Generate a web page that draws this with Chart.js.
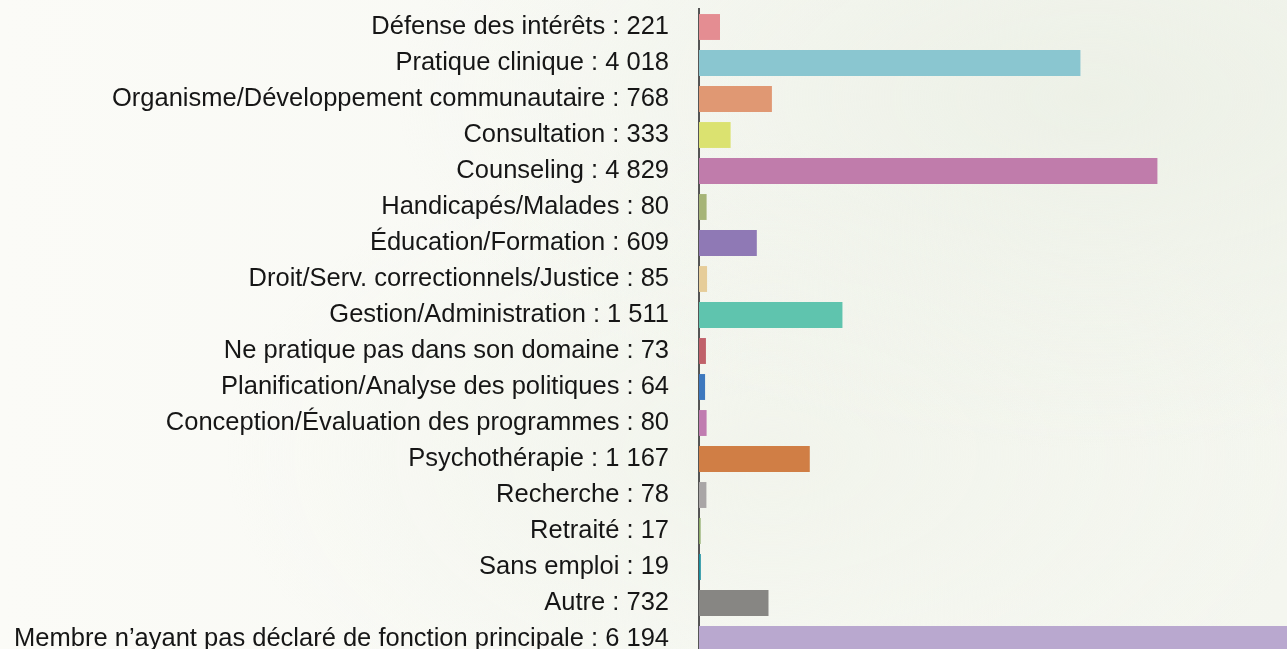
<!DOCTYPE html>
<html>
<head>
<meta charset="utf-8">
<script src="https://cdn.jsdelivr.net/npm/chart.js@4.4.1/dist/chart.umd.min.js"></script>
<style>
  html, body { margin: 0; padding: 0; width: 1287px; height: 649px; overflow: hidden; }
  body {
    background:
      radial-gradient(ellipse at 85% 15%, rgba(236,240,230,0.9) 0%, rgba(236,240,230,0) 45%),
      radial-gradient(ellipse at 60% 70%, rgba(240,243,234,0.8) 0%, rgba(240,243,234,0) 50%),
      linear-gradient(90deg, #fbfbf7 0%, #f8f9f4 50%, #f4f6ef 100%);
  }
  #wrap { position: absolute; left: 0; top: 0; width: 1287px; height: 657px; }
</style>
</head>
<body>
<div id="wrap"><canvas id="c"></canvas></div>
<script>
const categories = [
  "Défense des intérêts",
  "Pratique clinique",
  "Organisme/Développement communautaire",
  "Consultation",
  "Counseling",
  "Handicapés/Malades",
  "Éducation/Formation",
  "Droit/Serv. correctionnels/Justice",
  "Gestion/Administration",
  "Ne pratique pas dans son domaine",
  "Planification/Analyse des politiques",
  "Conception/Évaluation des programmes",
  "Psychothérapie",
  "Recherche",
  "Retraité",
  "Sans emploi",
  "Autre",
  "Membre n\u2019ayant pas déclaré de fonction principale"
];
const values = [221, 4018, 768, 333, 4829, 80, 609, 85, 1511, 73, 64, 80, 1167, 78, 17, 19, 732, 6194];
const barColors = [
  "#e48d92", "#8ac6d0", "#e09873", "#dbe270", "#c07cab", "#a6b477",
  "#8f79b5", "#e6cd99", "#5fc4ae", "#c0616a", "#3d78be", "#c07cb0",
  "#d07e45", "#a9a6a6", "#8dab68", "#1a8fa0", "#878683", "#b9a8cf"
];

function fmt(v) {
  return String(v).replace(/\B(?=(\d{3})+(?!\d))/g, " ");
}
const tickLabels = categories.map((c, i) => c + " : " + fmt(values[i]));

new Chart(document.getElementById("c"), {
  type: "bar",
  data: {
    labels: tickLabels,
    datasets: [{
      data: values,
      backgroundColor: barColors,
      borderWidth: 0,
      categoryPercentage: 0.8,
      barPercentage: 0.9
    }]
  },
  options: {
    indexAxis: "y",
    responsive: true,
    maintainAspectRatio: false,
    animation: false,
    layout: { padding: { top: 9, right: 0, bottom: 0, left: 0 } },
    plugins: { legend: { display: false }, tooltip: { enabled: false } },
    scales: {
      x: { display: false, min: 0, max: 6194 },
      y: {
        grid: { display: false, drawTicks: false },
        border: { display: true, color: "#555555", width: 2 },
        ticks: {
          color: "#161616",
          padding: 30,
          font: { family: "'Liberation Sans', Arial, Helvetica, sans-serif", size: 25.5 }
        },
        afterFit: (s) => { s.width = 699; s.paddingTop = 0; s.paddingBottom = 0; }
      }
    }
  }
});
</script>
</body>
</html>
